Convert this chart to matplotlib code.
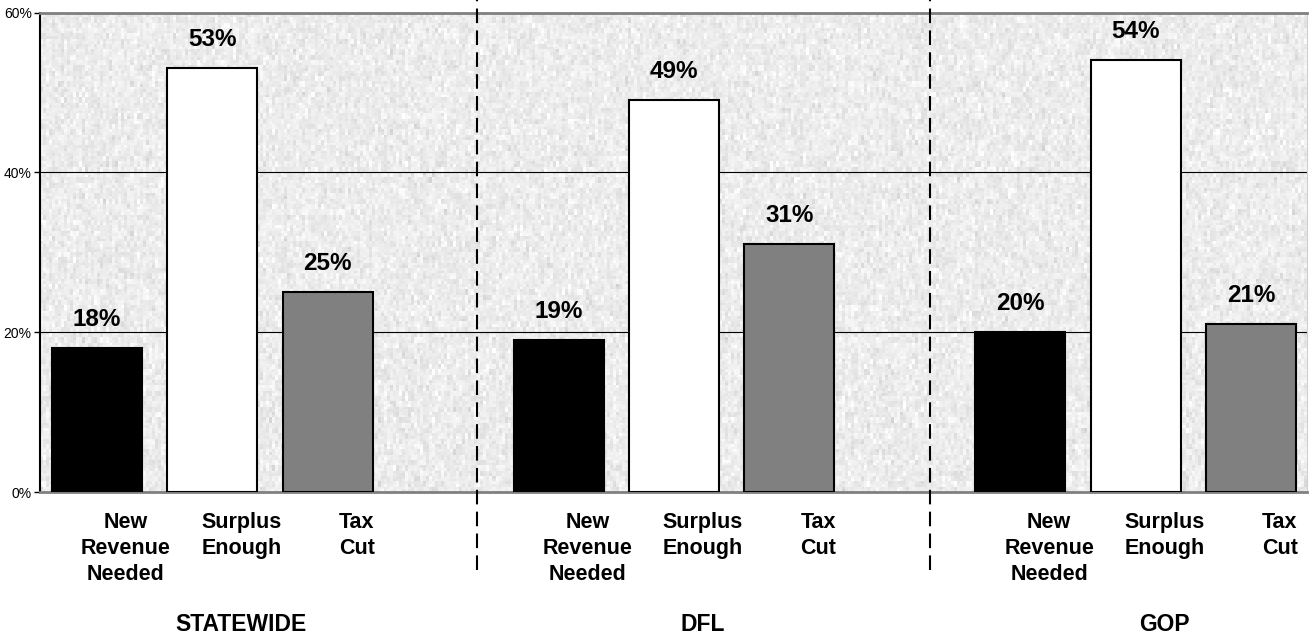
import matplotlib
matplotlib.use("Agg")
import matplotlib.pyplot as plt
import matplotlib.transforms as mtransforms
import numpy as np

plt.rcParams["font.family"] = ["Liberation Sans Narrow", "Liberation Sans", "DejaVu Sans"]

groups = ["STATEWIDE", "DFL", "GOP"]
answers = ["New\nRevenue\nNeeded", "Surplus\nEnough", "Tax\nCut"]
values = {
    "STATEWIDE": [18, 53, 25],
    "DFL": [19, 49, 31],
    "GOP": [20, 54, 21],
}
bar_colors = ["#000000", "#ffffff", "#808080"]
y_ticks = [0, 20, 40, 60]

fig = plt.figure(figsize=(13.1, 6.35), dpi=100)
ax = fig.add_axes([40 / 1310, 143 / 635, 1267 / 1310, 479.5 / 635])

xmin, xmax = -0.494, 10.485
ax.set_xlim(xmin, xmax)
ax.set_ylim(0, 60)

# granite-like background (decoration only)
rng = np.random.default_rng(7)
coarse = rng.normal(0, 1, (90, 420))
coarse = np.repeat(coarse, 2, axis=0)
fine = rng.normal(0, 1, (180, 420))
tex = 0.925 + 0.025 * coarse + 0.015 * fine
ax.imshow(tex, cmap="gray", vmin=0, vmax=1, extent=[xmin, xmax, 0, 60],
          aspect="auto", interpolation="nearest", zorder=0)

ax.set_axisbelow(True)
ax.yaxis.grid(True, color="black", linewidth=0.8)
ax.xaxis.grid(False)

fig_blend = mtransforms.blended_transform_factory(ax.transData, fig.transFigure)

for g, grp in enumerate(groups):
    xs = [g * 4 + i for i in range(len(answers))]
    ax.bar(xs, values[grp], width=0.78, color=bar_colors,
           edgecolor="black", linewidth=1.5, zorder=3)
    for x, v in zip(xs, values[grp]):
        ax.annotate(f"{v}%", (x, v), xytext=(0, 16), textcoords="offset points",
                    ha="center", va="baseline", fontsize=17.5, fontweight="bold")
    for x, lab in zip(xs, answers):
        ax.text(x + 0.25, 123 / 635, lab, transform=fig_blend, ha="center",
                va="top", fontsize=15.5, fontweight="bold", linespacing=1.3)
    ax.text(xs[1] + 0.25, 4 / 635, grp, transform=fig_blend, ha="center",
            va="baseline", fontsize=16.5, fontweight="bold")

# dashed separators between groups
for sx in [3.29, 7.22]:
    ax.plot([sx, sx], [-0.163, 1.027], transform=ax.get_xaxis_transform(),
            color="black", linewidth=1.5, linestyle=(0, (7, 3.5)),
            clip_on=False, zorder=4)

ax.set_xticks([])
ax.set_yticks(y_ticks)
ax.set_yticklabels([f"{t}%" for t in y_ticks], fontsize=10)
ax.tick_params(axis="y", length=4, width=1, pad=2)

ax.spines["left"].set_color("black")
ax.spines["left"].set_linewidth(1.5)
for side in ["top", "bottom"]:
    ax.spines[side].set_color("#808080")
    ax.spines[side].set_linewidth(2)
    ax.spines[side].set_zorder(2.5)
ax.spines["right"].set_color("#d0d0d0")
ax.spines["right"].set_linewidth(0.8)

fig.savefig("out.png", dpi=100)
